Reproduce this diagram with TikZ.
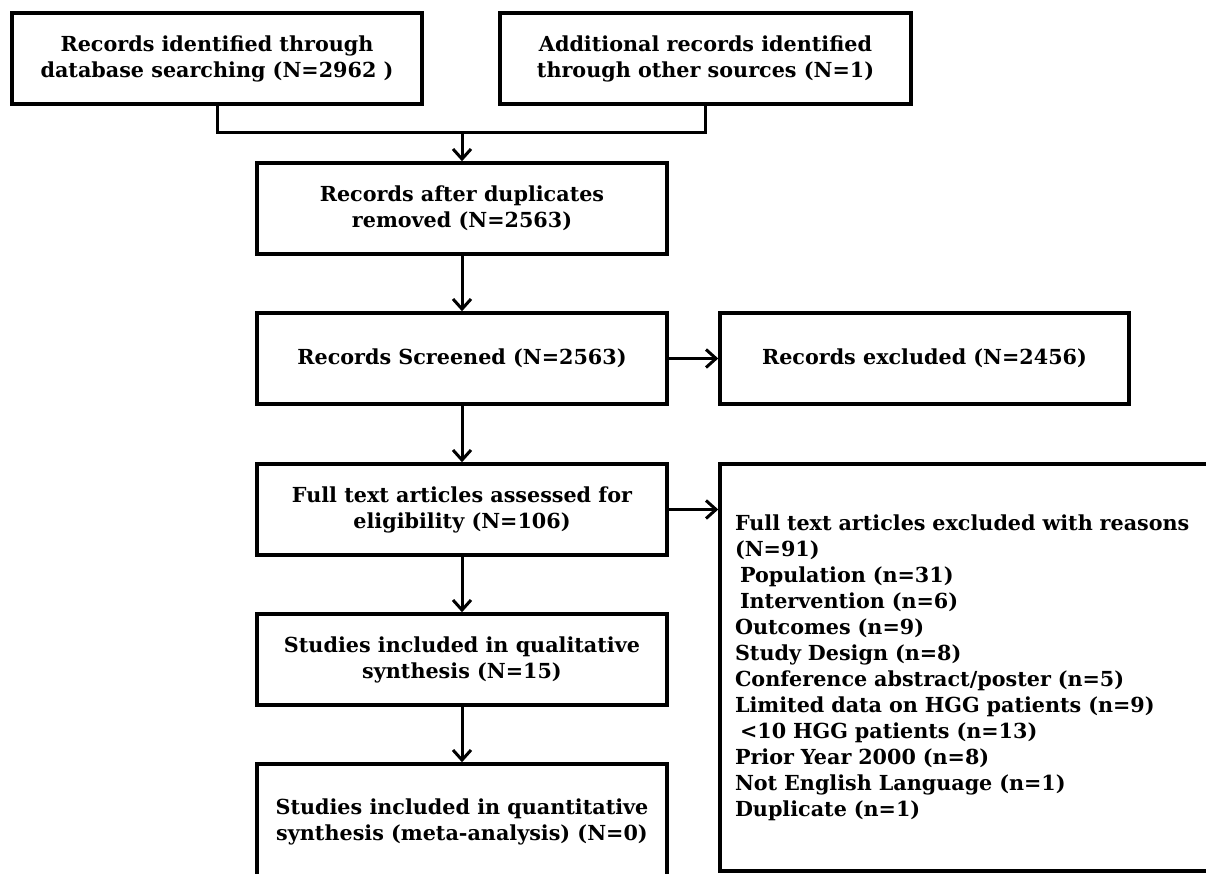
\documentclass[tikz,border=0pt]{standalone}
\usepackage{fontspec}
\setmainfont{DejaVu Serif}
\usetikzlibrary{arrows.meta}
\begin{document}
\begin{tikzpicture}[x=1pt,y=-1pt,
  box/.style={draw=black, line width=3.5pt, rectangle, align=center, inner sep=0pt,
    font=\fontsize{20.7}{26}\selectfont\bfseries},
  conn/.style={line width=3pt, draw=black},
  arr/.style={conn, -{Straight Barb[length=10pt,width=18pt,line width=3pt]}}
]
\clip (0,0) rectangle (1206,874);
\fill[white] (0,0) rectangle (1206,874);
\node[box, minimum width=410pt, minimum height=91pt] (A) at (217,58.5)
  {Records identified through\\database searching (N=2962 )};
\node[box, minimum width=411pt, minimum height=91pt] (B) at (705.5,58.5)
  {Additional records identified\\through other sources (N=1)};
\node[box, minimum width=410pt, minimum height=91pt] (C) at (462,208.5)
  {Records after duplicates\\removed (N=2563)};
\node[box, minimum width=410pt, minimum height=91pt] (D) at (462,358.5)
  {Records Screened (N=2563)};
\node[box, minimum width=409pt, minimum height=91pt] (E) at (924.5,358.5)
  {Records excluded (N=2456)};
\node[box, minimum width=410pt, minimum height=91pt] (F) at (462,509.5)
  {Full text articles assessed for\\eligibility (N=106)};
\node[box, minimum width=410pt, minimum height=91pt] (H) at (462,659.5)
  {Studies included in qualitative\\synthesis (N=15)};
\node[box, minimum width=410pt, minimum height=115pt] (I) at (462,821.5)
  {Studies included in quantitative\\synthesis (meta-analysis) (N=0)};
\node[box, align=left, minimum width=510pt, minimum height=407pt, text width=480pt, inner xsep=15pt] (G) at (975,667.5)
  {Full text articles excluded with reasons\\(N=91)\\\hspace*{5pt}Population (n=31)\\\hspace*{5pt}Intervention (n=6)\\Outcomes (n=9)\\Study Design (n=8)\\Conference abstract/poster (n=5)\\Limited data on HGG patients (n=9)\\\hspace*{5pt}<10 HGG patients (n=13)\\Prior Year 2000 (n=8)\\Not English Language (n=1)\\Duplicate (n=1)};
\coordinate (J) at (462,133);
\draw[conn] (A.south) |- (J) -| (B.south);
\draw[arr] (J) -- (C.north);
\draw[arr] (C) -- (D);
\draw[arr] (D) -- (E);
\draw[arr] (D) -- (F);
\draw[arr] (F) -- (G.west |- F);
\draw[arr] (F) -- (H);
\draw[arr] (H) -- (I);
\end{tikzpicture}
\end{document}
